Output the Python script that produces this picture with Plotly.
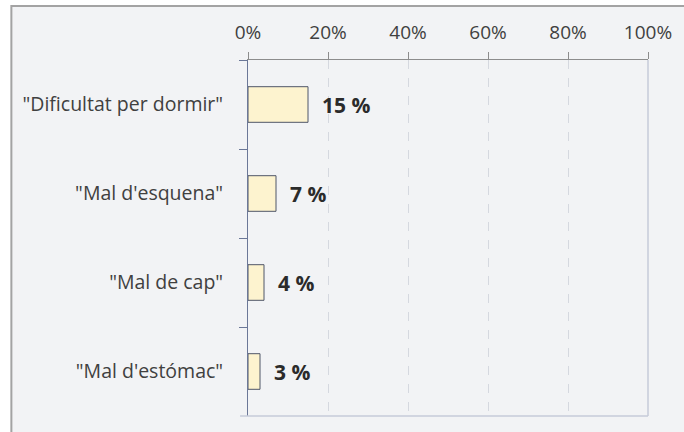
import plotly.graph_objects as go

# Survey responses: share of respondents reporting each complaint
categories = ['"Dificultat per dormir"', '"Mal d\'esquena"', '"Mal de cap"', '"Mal d\'estómac"']
values = [15, 7, 4, 3]
x_ticks = [0, 20, 40, 60, 80, 100]
x_tick_labels = [f"{v}%" for v in x_ticks]

W, H = 684, 432
ML, MR, MT, MB = 248, 32, 60, 16
PW, PH = W - ML - MR, H - MT - MB

BG = "#f2f3f5"
FONT = "Open Sans, Noto Sans, sans-serif"


def px_x(px):
    return (px - ML) / PW


def px_y(py):
    return (H - MB - py) / PH


fig = go.Figure()
fig.add_trace(go.Bar(
    x=values,
    y=categories,
    orientation="h",
    width=0.4,
    marker=dict(color="#fdf3cf", line=dict(color="#4f5668", width=1)),
    text=[f"  {v} %" for v in values],
    textposition="outside",
    cliponaxis=False,
    textfont=dict(family=FONT, size=21, color="#2b2b2b", weight="bold"),
    hoverinfo="skip",
))

fig.update_layout(
    width=W, height=H,
    margin=dict(l=ML, r=MR, t=MT, b=MB, pad=0),
    paper_bgcolor="white",
    plot_bgcolor="rgba(0,0,0,0)",
    showlegend=False,
    font=dict(family=FONT, size=19, color="#404040"),
    xaxis=dict(
        side="top",
        range=[0, 100],
        tickmode="array",
        tickvals=x_ticks,
        ticktext=x_tick_labels,
        ticks="outside", ticklen=7, tickcolor="#8c8c8c", tickwidth=1,
        showline=True, linecolor="#8c8c8c", linewidth=1,
        showgrid=True, gridcolor="#d5d8df", griddash="dash", gridwidth=1,
        zeroline=False,
        ticklabelstandoff=5,
        tickfont=dict(family=FONT, size=19, color="#404040"),
    ),
    xaxis2=dict(
        overlaying="x", side="top", range=[0, 100],
        tickmode="array", tickvals=x_ticks,
        ticks="inside", ticklen=7, tickcolor="#8c8c8c",
        showticklabels=False, showgrid=False, showline=False, zeroline=False,
    ),
    yaxis=dict(
        autorange="reversed",
        ticks="outside", tickson="boundaries", ticklen=8,
        tickcolor="#6b7797", tickwidth=1,
        showline=True, linecolor="#6b7797", linewidth=1,
        showgrid=False, zeroline=False,
        ticklabelstandoff=20,
        tickfont=dict(family=FONT, size=19.5, color="#404040"),
    ),
    yaxis2=dict(
        overlaying="y", side="left", range=[3.5, -0.5],
        tickmode="array", tickvals=[-0.5, 0.5, 1.5, 2.5, 3.5],
        ticks="inside", ticklen=7, tickcolor="#6b7797",
        showticklabels=False, showgrid=False, showline=False, zeroline=False,
    ),
    bargap=0.6,
)

# Framed panel behind the chart
fig.add_shape(type="rect", xref="paper", yref="paper",
              x0=px_x(9), x1=px_x(W + 20), y0=px_y(H + 20), y1=px_y(6),
              fillcolor=BG, line=dict(color="#a3a3a3", width=2), layer="below")
# Light right and bottom edges of the plot area
fig.add_shape(type="line", xref="paper", yref="paper",
              x0=1, x1=1, y0=0, y1=1,
              line=dict(color="#c6cbd9", width=1.5))
fig.add_shape(type="line", xref="paper", yref="paper",
              x0=px_x(240), x1=1, y0=0, y1=0,
              line=dict(color="#c6cbd9", width=1.5))

fig.write_html("out.html")
